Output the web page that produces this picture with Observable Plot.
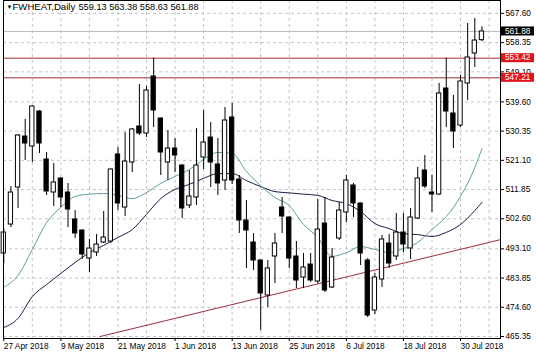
<!DOCTYPE html>
<html><head><meta charset="utf-8">
<script src="https://cdn.jsdelivr.net/npm/d3@7"></script>
<script src="https://cdn.jsdelivr.net/npm/@observablehq/plot@0.6"></script>
<style>
html,body{margin:0;padding:0;background:#fff;}
#chart{width:536px;height:357px;overflow:hidden;}
</style></head><body><div id="chart"></div>
<script>
const title = "FWHEAT,Daily";
const ohlcText = "559.13 563.38 558.63 561.88";
const openP = [491.62,500.79,512.50,528.64,525.48,536.55,521.36,510.92,515.35,510.92,502.38,498.89,490.03,491.93,495.10,495.41,522.95,506.17,520.41,531.81,529.59,547.63,534.34,520.41,524.84,519.46,506.81,509.34,522.00,528.32,519.78,514.72,534.65,515.03,502.06,495.10,489.40,478.32,490.67,506.17,503.01,490.67,484.02,488.13,482.75,501.11,480.86,496.36,504.59,513.14,507.44,489.40,473.58,483.39,494.78,490.67,498.26,493.20,502.69,517.88,510.92,510.29,543.83,535.92,532.12,545.42,554.91,559.13];
const highP = [499.53,512.82,529.27,534.02,538.30,536.80,523.58,520.10,515.60,513.77,505.22,499.10,496.05,497.63,504.91,518.40,525.16,529.91,531.17,545.10,544.47,553.42,534.50,530.54,528.01,519.70,517.88,531.17,536.87,533.07,528.01,537.82,539.09,516.30,508.39,497.95,489.60,489.40,497.95,509.34,503.20,495.41,491.62,491.62,508.71,509.34,493.20,507.76,516.30,513.77,507.60,490.03,485.29,497.31,497.63,504.27,504.27,505.86,518.83,522.63,516.30,545.42,553.42,541.62,547.95,564.40,565.98,563.38];
const lowP = [488.45,499.84,505.86,521.05,520.41,523.26,509.97,506.49,506.17,499.84,496.36,489.72,485.60,490.67,494.78,494.78,505.22,503.33,517.25,528.96,528.32,531.49,516.30,514.72,517.25,502.69,505.86,506.81,518.20,512.50,509.97,511.55,513.45,497.95,486.87,486.24,467.25,474.53,482.12,497.95,486.87,480.54,480.54,482.44,482.12,479.27,480.54,495.73,501.43,503.01,487.82,471.36,472.31,480.86,486.87,489.40,491.93,489.72,502.38,512.19,504.59,509.97,531.49,524.84,531.49,540.03,550.48,558.63];
const closeP = [498.26,510.92,528.96,526.43,538.14,526.43,511.24,514.09,509.34,505.54,497.95,491.30,493.20,494.46,496.68,518.20,507.44,520.73,530.86,529.59,543.20,536.87,523.58,524.84,522.63,505.86,509.65,519.46,526.74,520.41,513.77,533.71,514.72,502.06,498.89,489.40,478.96,486.87,494.78,503.33,490.03,483.07,487.19,483.07,499.21,479.91,490.35,505.22,514.72,507.44,491.62,471.99,484.02,496.05,488.45,498.26,494.46,503.01,515.35,512.82,510.29,542.25,536.55,530.22,546.05,553.64,559.02,561.88];

const maIdx = [0,2,4,6,8,10,12,14,16,18,20,22,24,26,28,30,32,34,36,38,40,42,44,46,48,50,52,54,56,58,60,62,64,66,67];
const maFast = [480.9,484.7,492.9,501.4,506.2,509.7,510.4,510.6,510.0,509.0,510.9,513.8,516.0,518.2,521.4,523.6,523.3,517.6,513.1,509.3,506.8,500.8,496.7,490.7,491.9,493.8,492.9,491.9,493.2,495.1,499.2,503.3,509.7,518.8,524.8];
const maSlow = [468.2,471.1,478.0,481.8,485.3,488.8,491.9,494.2,496.7,499.2,504.0,509.0,511.9,513.5,515.4,516.9,516.9,514.7,512.8,511.2,510.8,510.4,510.0,508.4,507.4,504.9,501.1,499.5,497.9,497.6,497.0,498.3,500.8,505.2,507.8];

const trendIdx = [13.5, 69.6];
const trendPrice = [465.35, 496.0];

const levels = [553.42, 547.21];
const lastPrice = 561.88;

const dateTicks = [0,8,16,24,32,40,48,56,64];
const dateLabels = ["27 Apr 2018","9 May 2018","21 May 2018","1 Jun 2018","13 Jun 2018","25 Jun 2018","6 Jul 2018","18 Jul 2018","30 Jul 2018"];
const gridIdx = [4,8,12,16,20,24,28,32,36,40,44,48,52,56,60,64,68];
const priceTicks = [567.60,558.35,549.10,539.60,530.35,521.10,511.85,502.60,493.10,483.85,474.60,465.35];

const candles = openP.map((o, i) => ({i, o, h: highP[i], l: lowP[i], c: closeP[i]}));
const fast = maIdx.map((i, k) => ({i, v: maFast[k]}));
const slow = maIdx.map((i, k) => ({i, v: maSlow[k]}));
const trend = trendIdx.map((i, k) => ({i, v: trendPrice[k]}));

const FONT = "Liberation Sans, Arial, sans-serif";
const grid = {stroke: "#c4c4c4", strokeDasharray: "3,3", strokeWidth: 1};

const plot = Plot.plot({
  width: 536, height: 357,
  marginLeft: 3, marginRight: 36, marginTop: 0, marginBottom: 19,
  style: {background: "#fff", color: "#000", fontFamily: FONT, fontSize: "8.3px"},
  x: {domain: [-0.04, 69.6], label: null},
  y: {domain: [464.72, 571.68], label: null},
  marks: [
    Plot.ruleX(gridIdx, grid),
    Plot.ruleY(priceTicks, grid),
    Plot.ruleY([lastPrice], {stroke: "#bdbdbd", strokeWidth: 1}),
    Plot.ruleY(levels, {stroke: "#9e2c36", strokeWidth: 1}),
    Plot.line(trend, {x: "i", y: "v", stroke: "#9e2c3c", strokeWidth: 1, clip: true}),
    Plot.line(slow, {x: "i", y: "v", stroke: "#1c1c48", strokeWidth: 1, curve: "monotone-x"}),
    Plot.line(fast, {x: "i", y: "v", stroke: "#5f9ea0", strokeWidth: 1, curve: "monotone-x"}),
    Plot.ruleX(candles, {x: "i", y1: "l", y2: "h", stroke: "#000", strokeWidth: 1}),
    Plot.rect(candles, {
      x1: d => d.i - 0.3, x2: d => d.i + 0.3,
      y1: d => Math.min(d.o, d.c), y2: d => Math.max(d.o, d.c),
      fill: d => d.c >= d.o ? "#fff" : "#000", stroke: "#000", strokeWidth: 1
    }),
    Plot.frame({stroke: "#000"}),
    Plot.axisY({anchor: "right", label: null, ticks: priceTicks, tickFormat: d => d.toFixed(2), tickSize: 3, tickPadding: 2, fontSize: 8.3}),
    Plot.axisX({anchor: "bottom", label: null, ticks: dateTicks, tickFormat: d => dateLabels[dateTicks.indexOf(d)], tickSize: 3, tickPadding: 2, textAnchor: "start", fontSize: 8.3}),
    Plot.text(["\u25BC"], {frameAnchor: "top-left", dx: 3, dy: 4, textAnchor: "start", lineAnchor: "top", fontSize: 6}),
    Plot.text([title], {frameAnchor: "top-left", dx: 9, dy: 2.5, textAnchor: "start", lineAnchor: "top", fontSize: 9.6}),
    Plot.text([ohlcText], {frameAnchor: "top-left", dx: 75, dy: 2.5, textAnchor: "start", lineAnchor: "top", fontSize: 9.2})
  ]
});

document.getElementById("chart").appendChild(plot);

// price labels on the right axis, positioned with the plot's y scale
const ys = plot.scale("y");
const boxes = [
  {v: lastPrice, bg: "#000"},
  {v: levels[0], bg: "#e3151c"},
  {v: levels[1], bg: "#e3151c"}
];
const svg = d3.select(plot);
const g = svg.append("g").attr("text-anchor", "start");
boxes.forEach(b => {
  const yy = ys.apply(b.v);
  g.append("rect").attr("x", 501).attr("y", yy - 4.5).attr("width", 33).attr("height", 9).attr("fill", b.bg);
  g.append("text").attr("x", 505).attr("y", yy).attr("dy", "0.32em").attr("fill", "#fff")
    .attr("text-anchor", "start").attr("font-family", FONT).attr("font-size", 8.3).text(b.v.toFixed(2));
});
</script></body></html>
